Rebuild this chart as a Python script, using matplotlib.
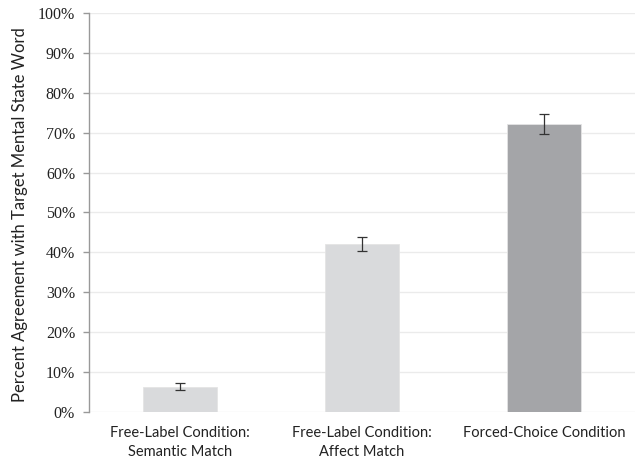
import matplotlib
matplotlib.use("Agg")
import matplotlib.pyplot as plt

categories = ["Free-Label Condition:\nSemantic Match",
              "Free-Label Condition:\nAffect Match",
              "Forced-Choice Condition"]
values = [6.3, 42.1, 72.2]
errors = [0.9, 1.7, 2.5]
colors = ["#d9dadc", "#d9dadc", "#a4a5a8"]
yticks = [0, 10, 20, 30, 40, 50, 60, 70, 80, 90, 100]
ytick_labels = [f"{v}%" for v in yticks]

fig = plt.figure(figsize=(6.39, 4.59), dpi=100)
ax = fig.add_axes([89/639, 1-412/459, (635-89)/639, (412-13)/459])

x = list(range(len(categories)))
ax.bar(x, values, width=0.41, color=colors, zorder=3,
       edgecolor="#e4e4e4", linewidth=0.6)
ax.errorbar(x, values, yerr=errors, fmt="none", ecolor="#333333",
            elinewidth=0.9, capsize=3.5, capthick=0.9, zorder=4)

ax.set_xlim(-0.5, 2.5)
ax.set_ylim(0, 100)
ax.set_yticks(yticks)
ax.set_yticklabels(ytick_labels, fontfamily="Liberation Serif",
                   fontsize=11.5, color="#222222")
ax.grid(axis="y", color="#ebebeb", linewidth=1.0, zorder=0)
ax.set_axisbelow(True)

for s in ["top", "right", "bottom"]:
    ax.spines[s].set_visible(False)
ax.spines["left"].set_color("#999999")
ax.spines["left"].set_linewidth(1.0)

ax.tick_params(axis="y", length=4, color="#999999", width=1.0, pad=6)
ax.tick_params(axis="x", length=0, pad=10)
ax.set_xticks(x)
ax.set_xticklabels(categories, fontsize=10.5, family="Lato", color="#222222",
                   linespacing=1.45)

ax.set_ylabel("Percent Agreement with Target Mental State Word",
              fontsize=12, family="Lato", color="#222222")
ax.yaxis.set_label_coords(-0.111, 0.494)

fig.savefig("out.png", dpi=100)
